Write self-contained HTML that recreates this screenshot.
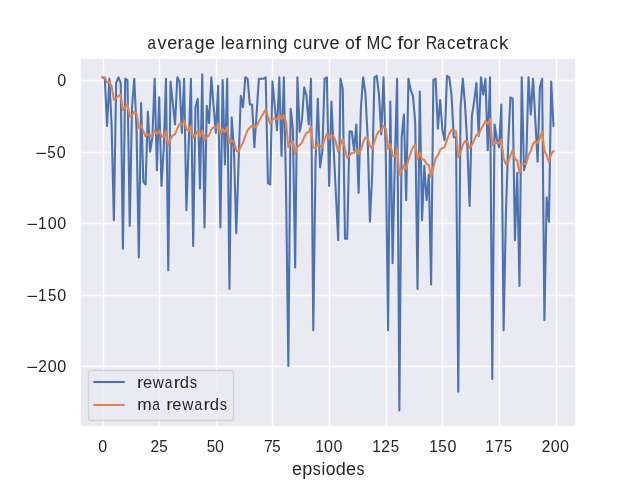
<!DOCTYPE html>
<html><head><meta charset="utf-8"><title>average learning curve of MC for Racetrack</title><style>
html,body{margin:0;padding:0;background:#fff;}
svg{display:block;}
.t{will-change:transform;}
text{font-family:"Liberation Sans",sans-serif;fill:#262626;}
</style></head><body>
<svg width="640" height="480" viewBox="0 0 640 480">
<rect width="640" height="480" fill="#fff"/>
<rect x="80.86" y="58.86" width="494.28" height="367.28" fill="#EAEAF2"/>
<line x1="103.5" y1="59" x2="103.5" y2="426" stroke="#fff" stroke-width="1.39"/>
<line x1="159.5" y1="59" x2="159.5" y2="426" stroke="#fff" stroke-width="1.39"/>
<line x1="216.5" y1="59" x2="216.5" y2="426" stroke="#fff" stroke-width="1.39"/>
<line x1="272.5" y1="59" x2="272.5" y2="426" stroke="#fff" stroke-width="1.39"/>
<line x1="329.5" y1="59" x2="329.5" y2="426" stroke="#fff" stroke-width="1.39"/>
<line x1="386.5" y1="59" x2="386.5" y2="426" stroke="#fff" stroke-width="1.39"/>
<line x1="442.5" y1="59" x2="442.5" y2="426" stroke="#fff" stroke-width="1.39"/>
<line x1="499.5" y1="59" x2="499.5" y2="426" stroke="#fff" stroke-width="1.39"/>
<line x1="556.5" y1="59" x2="556.5" y2="426" stroke="#fff" stroke-width="1.39"/>
<line x1="80.9" y1="80.5" x2="574.9" y2="80.5" stroke="#fff" stroke-width="1.39"/>
<line x1="80.9" y1="152.5" x2="574.9" y2="152.5" stroke="#fff" stroke-width="1.39"/>
<line x1="80.9" y1="223.5" x2="574.9" y2="223.5" stroke="#fff" stroke-width="1.39"/>
<line x1="80.9" y1="295.5" x2="574.9" y2="295.5" stroke="#fff" stroke-width="1.39"/>
<line x1="80.9" y1="366.5" x2="574.9" y2="366.5" stroke="#fff" stroke-width="1.39"/>
<path d="M102.55 77.26 L104.82 78.69 L107.08 125.87 L109.35 78.69 L111.61 125.87 L113.88 220.24 L116.15 82.98 L118.41 77.26 L120.68 82.98 L122.94 248.83 L125.21 78.69 L127.47 80.12 L129.74 225.96 L132.01 107.29 L134.27 78.69 L136.54 128.73 L138.80 257.41 L141.07 103.00 L143.34 181.63 L145.60 184.49 L147.87 111.57 L150.13 151.61 L152.40 137.31 L154.67 78.69 L156.93 170.20 L159.20 97.28 L161.46 185.92 L163.73 148.75 L165.99 78.69 L168.26 270.28 L170.53 81.55 L172.79 103.00 L175.06 124.44 L177.32 77.26 L179.59 81.55 L181.86 133.02 L184.12 78.69 L186.39 210.23 L188.65 145.89 L190.92 78.69 L193.18 245.97 L195.45 107.29 L197.72 98.71 L199.98 188.78 L202.25 74.40 L204.51 227.39 L206.78 105.86 L209.05 123.01 L211.31 77.26 L213.58 105.86 L215.84 133.02 L218.11 85.84 L220.38 227.39 L222.64 80.12 L224.91 164.48 L227.17 78.69 L229.44 288.87 L231.70 117.29 L233.97 150.18 L236.24 233.11 L238.50 165.91 L240.77 95.85 L243.03 107.29 L245.30 77.26 L247.57 78.69 L249.83 104.43 L252.10 104.43 L254.36 147.32 L256.63 113.00 L258.90 78.69 L261.16 78.69 L263.43 78.69 L265.69 77.26 L267.96 183.06 L270.22 184.49 L272.49 81.55 L274.76 105.86 L277.02 130.16 L279.29 77.26 L281.55 155.90 L283.82 77.26 L286.09 191.64 L288.35 366.08 L290.62 108.71 L292.88 128.73 L295.15 267.42 L297.42 77.26 L299.68 131.59 L301.95 120.15 L304.21 87.27 L306.48 95.85 L308.74 124.44 L311.01 78.69 L313.28 330.33 L315.54 161.62 L317.81 98.71 L320.07 167.34 L322.34 151.61 L324.61 78.69 L326.87 77.26 L329.14 185.92 L331.40 101.57 L333.67 148.75 L335.94 194.50 L338.20 240.26 L340.47 78.69 L342.73 88.70 L345.00 238.83 L347.26 238.83 L349.53 131.59 L351.80 131.59 L354.06 150.18 L356.33 124.44 L358.59 193.07 L360.86 108.71 L363.13 77.26 L365.39 92.99 L367.66 137.31 L369.92 221.67 L372.19 174.49 L374.45 77.26 L376.72 75.83 L378.99 94.42 L381.25 134.45 L383.52 77.26 L385.78 153.04 L388.05 330.33 L390.32 101.57 L392.58 263.13 L394.85 160.19 L397.11 78.69 L399.38 410.40 L401.65 137.31 L403.91 114.43 L406.18 200.22 L408.44 78.69 L410.71 90.13 L412.97 95.85 L415.24 123.01 L417.51 288.87 L419.77 91.56 L422.04 220.24 L424.30 165.91 L426.57 200.22 L428.84 174.49 L431.10 284.58 L433.37 80.12 L435.63 78.69 L437.90 128.73 L440.17 100.14 L442.43 130.16 L444.70 140.17 L446.96 75.83 L449.23 77.26 L451.49 94.42 L453.76 137.31 L456.03 137.31 L458.29 391.81 L460.56 107.29 L462.82 78.69 L465.09 105.86 L467.36 145.89 L469.62 205.94 L471.89 115.86 L474.15 101.57 L476.42 82.98 L478.69 135.88 L480.95 77.26 L483.22 94.42 L485.48 78.69 L487.75 150.18 L490.01 77.26 L492.28 378.94 L494.55 124.44 L496.81 138.74 L499.08 147.32 L501.34 104.43 L503.61 330.33 L505.88 214.52 L508.14 145.89 L510.41 97.28 L512.67 98.71 L514.94 240.26 L517.21 173.06 L519.47 286.01 L521.74 77.26 L524.00 170.20 L526.27 160.19 L528.53 77.26 L530.80 114.43 L533.07 78.69 L535.33 120.15 L537.60 161.62 L539.86 87.27 L542.13 78.69 L544.40 320.32 L546.66 197.36 L548.93 221.67 L551.19 81.55 L553.46 125.87" fill="none" stroke="#4C72B0" stroke-width="2.08" stroke-linejoin="round" stroke-linecap="square"/>
<path d="M102.55 77.26 L104.82 77.40 L107.08 82.25 L109.35 81.89 L111.61 86.29 L113.88 99.69 L116.15 98.02 L118.41 95.94 L120.68 94.64 L122.94 110.06 L125.21 106.93 L127.47 104.24 L129.74 116.42 L132.01 115.50 L134.27 111.82 L136.54 113.51 L138.80 127.90 L141.07 125.41 L143.34 131.03 L145.60 136.38 L147.87 133.90 L150.13 135.67 L152.40 135.83 L154.67 130.12 L156.93 134.13 L159.20 130.44 L161.46 135.99 L163.73 137.27 L165.99 131.41 L168.26 145.30 L170.53 138.92 L172.79 135.33 L175.06 134.24 L177.32 128.54 L179.59 123.84 L181.86 124.76 L184.12 120.15 L186.39 129.16 L188.65 130.83 L190.92 125.62 L193.18 137.65 L195.45 134.62 L197.72 131.03 L199.98 136.80 L202.25 130.56 L204.51 140.24 L206.78 136.81 L209.05 135.43 L211.31 129.61 L213.58 127.23 L215.84 127.81 L218.11 123.62 L220.38 133.99 L222.64 128.61 L224.91 132.19 L227.17 126.84 L229.44 143.04 L231.70 140.47 L233.97 141.44 L236.24 150.61 L238.50 152.14 L240.77 146.51 L243.03 142.59 L245.30 136.05 L247.57 130.32 L249.83 127.73 L252.10 125.40 L254.36 127.59 L256.63 126.13 L258.90 121.39 L261.16 117.12 L263.43 113.27 L265.69 109.67 L267.96 117.01 L270.22 123.76 L272.49 119.54 L274.76 118.17 L277.02 119.37 L279.29 115.16 L281.55 119.23 L283.82 115.04 L286.09 122.70 L288.35 147.03 L290.62 143.20 L292.88 141.76 L295.15 154.32 L297.42 146.62 L299.68 145.11 L301.95 142.62 L304.21 137.08 L306.48 132.96 L308.74 132.11 L311.01 126.77 L313.28 147.12 L315.54 148.57 L317.81 143.58 L320.07 145.96 L322.34 146.52 L324.61 139.74 L326.87 133.49 L329.14 138.74 L331.40 135.02 L333.67 136.39 L335.94 142.20 L338.20 152.01 L340.47 144.68 L342.73 139.08 L345.00 149.05 L347.26 158.03 L349.53 155.39 L351.80 153.01 L354.06 152.72 L356.33 149.90 L358.59 154.21 L360.86 149.66 L363.13 142.42 L365.39 137.48 L367.66 137.46 L369.92 145.88 L372.19 148.74 L374.45 141.60 L376.72 135.02 L378.99 130.96 L381.25 131.31 L383.52 125.90 L385.78 128.62 L388.05 148.79 L390.32 144.07 L392.58 155.97 L394.85 156.39 L397.11 148.62 L399.38 174.80 L401.65 171.05 L403.91 165.39 L406.18 168.87 L408.44 159.85 L410.71 152.88 L412.97 147.18 L415.24 144.76 L417.51 159.17 L419.77 152.41 L422.04 159.19 L424.30 159.87 L426.57 163.90 L428.84 164.96 L431.10 176.92 L433.37 167.24 L435.63 158.39 L437.90 155.42 L440.17 149.89 L442.43 147.92 L444.70 147.14 L446.96 140.01 L449.23 133.74 L451.49 129.81 L453.76 130.56 L456.03 131.23 L458.29 157.29 L460.56 152.29 L462.82 144.93 L465.09 141.02 L467.36 141.51 L469.62 147.95 L471.89 144.74 L474.15 140.43 L476.42 134.68 L478.69 134.80 L480.95 129.05 L483.22 125.58 L485.48 120.89 L487.75 123.82 L490.01 119.17 L492.28 145.14 L494.55 143.07 L496.81 142.64 L499.08 143.11 L501.34 139.24 L503.61 158.35 L505.88 163.97 L508.14 162.16 L510.41 155.67 L512.67 149.97 L514.94 159.00 L517.21 160.41 L519.47 172.97 L521.74 163.40 L524.00 164.08 L526.27 163.69 L528.53 155.04 L530.80 150.98 L533.07 143.75 L535.33 141.39 L537.60 143.42 L539.86 137.80 L542.13 131.89 L544.40 150.73 L546.66 155.40 L548.93 162.02 L551.19 153.98 L553.46 151.17" fill="none" stroke="#DD8452" stroke-width="2.08" stroke-linejoin="round" stroke-linecap="square"/>
<rect x="88.5" y="370.5" width="145" height="50" rx="2.8" fill="#EAEAF2" fill-opacity="0.8" stroke="#CCCCCC" stroke-opacity="0.8" stroke-width="1.39"/>
<line x1="94.3" y1="382" x2="123.7" y2="382" stroke="#4C72B0" stroke-width="2.08" stroke-linecap="square"/>
<line x1="94.3" y1="405" x2="123.7" y2="405" stroke="#DD8452" stroke-width="2.08" stroke-linecap="square"/>
<g class="t" fill="#262626">
<text y="48.77" font-size="18.67"><tspan x="147.42" y="48.77" textLength="8.34" lengthAdjust="spacingAndGlyphs">a</tspan><tspan x="157.60" y="48.77" textLength="8.99" lengthAdjust="spacingAndGlyphs">v</tspan><tspan x="167.18" y="48.77" textLength="10.01" lengthAdjust="spacingAndGlyphs">e</tspan><tspan x="177.36" y="48.77" textLength="7.11" lengthAdjust="spacingAndGlyphs">r</tspan><tspan x="184.50" y="48.77" textLength="8.34" lengthAdjust="spacingAndGlyphs">a</tspan><tspan x="194.40" y="48.77" textLength="10.07" lengthAdjust="spacingAndGlyphs">g</tspan><tspan x="204.89" y="48.77" textLength="10.01" lengthAdjust="spacingAndGlyphs">e</tspan> <tspan x="220.64" y="48.77" textLength="3.79" lengthAdjust="spacingAndGlyphs">l</tspan><tspan x="224.99" y="48.77" textLength="10.01" lengthAdjust="spacingAndGlyphs">e</tspan><tspan x="235.43" y="48.77" textLength="8.34" lengthAdjust="spacingAndGlyphs">a</tspan><tspan x="245.28" y="48.77" textLength="7.11" lengthAdjust="spacingAndGlyphs">r</tspan><tspan x="252.12" y="48.77" textLength="9.99" lengthAdjust="spacingAndGlyphs">n</tspan><tspan x="262.72" y="48.77" textLength="3.79" lengthAdjust="spacingAndGlyphs">i</tspan><tspan x="267.23" y="48.77" textLength="9.99" lengthAdjust="spacingAndGlyphs">n</tspan><tspan x="277.55" y="48.77" textLength="10.07" lengthAdjust="spacingAndGlyphs">g</tspan> <tspan x="293.33" y="48.77" textLength="8.36" lengthAdjust="spacingAndGlyphs">c</tspan><tspan x="302.49" y="48.77" textLength="9.99" lengthAdjust="spacingAndGlyphs">u</tspan><tspan x="312.82" y="48.77" textLength="7.11" lengthAdjust="spacingAndGlyphs">r</tspan><tspan x="320.03" y="48.77" textLength="8.99" lengthAdjust="spacingAndGlyphs">v</tspan><tspan x="329.61" y="48.77" textLength="10.01" lengthAdjust="spacingAndGlyphs">e</tspan> <tspan x="345.11" y="48.77" textLength="9.85" lengthAdjust="spacingAndGlyphs">o</tspan><tspan x="355.12" y="48.77" textLength="6.08" lengthAdjust="spacingAndGlyphs">f</tspan> <tspan x="366.43" y="48.77" textLength="13.84" lengthAdjust="spacingAndGlyphs">M</tspan><tspan x="380.66" y="48.77" textLength="11.17" lengthAdjust="spacingAndGlyphs">C</tspan> <tspan x="397.32" y="48.77" textLength="6.08" lengthAdjust="spacingAndGlyphs">f</tspan><tspan x="403.29" y="48.77" textLength="9.85" lengthAdjust="spacingAndGlyphs">o</tspan><tspan x="413.32" y="48.77" textLength="7.11" lengthAdjust="spacingAndGlyphs">r</tspan> <tspan x="425.66" y="48.77" textLength="11.51" lengthAdjust="spacingAndGlyphs">R</tspan><tspan x="436.94" y="48.77" textLength="8.34" lengthAdjust="spacingAndGlyphs">a</tspan><tspan x="446.89" y="48.77" textLength="8.36" lengthAdjust="spacingAndGlyphs">c</tspan><tspan x="455.95" y="48.77" textLength="10.01" lengthAdjust="spacingAndGlyphs">e</tspan><tspan x="466.15" y="48.77" textLength="6.19" lengthAdjust="spacingAndGlyphs">t</tspan><tspan x="472.62" y="48.77" textLength="7.11" lengthAdjust="spacingAndGlyphs">r</tspan><tspan x="479.76" y="48.77" textLength="8.34" lengthAdjust="spacingAndGlyphs">a</tspan><tspan x="489.72" y="48.77" textLength="8.36" lengthAdjust="spacingAndGlyphs">c</tspan><tspan x="498.88" y="48.77" textLength="9.32" lengthAdjust="spacingAndGlyphs">k</tspan></text>
<text y="474.70" font-size="18.67"><tspan x="292.08" y="474.70" textLength="10.01" lengthAdjust="spacingAndGlyphs">e</tspan><tspan x="302.36" y="474.70" textLength="10.08" lengthAdjust="spacingAndGlyphs">p</tspan><tspan x="312.84" y="474.70" textLength="7.99" lengthAdjust="spacingAndGlyphs">s</tspan><tspan x="321.46" y="474.70" textLength="3.79" lengthAdjust="spacingAndGlyphs">i</tspan><tspan x="325.72" y="474.70" textLength="9.85" lengthAdjust="spacingAndGlyphs">o</tspan><tspan x="335.68" y="474.70" textLength="10.07" lengthAdjust="spacingAndGlyphs">d</tspan><tspan x="346.02" y="474.70" textLength="10.01" lengthAdjust="spacingAndGlyphs">e</tspan><tspan x="356.44" y="474.70" textLength="7.99" lengthAdjust="spacingAndGlyphs">s</tspan></text>
<text y="451.89" font-size="15.89"><tspan x="98.34" y="451.89" textLength="8.96" lengthAdjust="spacingAndGlyphs">0</tspan></text>
<text y="451.89" font-size="15.89"><tspan x="150.56" y="451.89" textLength="8.63" lengthAdjust="spacingAndGlyphs">2</tspan><tspan x="159.15" y="451.89" textLength="8.45" lengthAdjust="spacingAndGlyphs">5</tspan></text>
<text y="451.89" font-size="15.89"><tspan x="206.73" y="451.89" textLength="8.45" lengthAdjust="spacingAndGlyphs">5</tspan><tspan x="215.10" y="451.89" textLength="8.96" lengthAdjust="spacingAndGlyphs">0</tspan></text>
<text y="451.89" font-size="15.89"><tspan x="263.92" y="451.89" textLength="8.76" lengthAdjust="spacingAndGlyphs">7</tspan><tspan x="272.19" y="451.89" textLength="8.45" lengthAdjust="spacingAndGlyphs">5</tspan></text>
<text y="451.89" font-size="15.89"><tspan x="315.30" y="451.89" textLength="8.55" lengthAdjust="spacingAndGlyphs">1</tspan><tspan x="323.93" y="451.89" textLength="8.96" lengthAdjust="spacingAndGlyphs">0</tspan><tspan x="333.56" y="451.89" textLength="8.96" lengthAdjust="spacingAndGlyphs">0</tspan></text>
<text y="451.89" font-size="15.89"><tspan x="372.30" y="451.89" textLength="8.55" lengthAdjust="spacingAndGlyphs">1</tspan><tspan x="381.20" y="451.89" textLength="8.63" lengthAdjust="spacingAndGlyphs">2</tspan><tspan x="390.78" y="451.89" textLength="8.45" lengthAdjust="spacingAndGlyphs">5</tspan></text>
<text y="451.89" font-size="15.89"><tspan x="429.30" y="451.89" textLength="8.55" lengthAdjust="spacingAndGlyphs">1</tspan><tspan x="438.15" y="451.89" textLength="8.45" lengthAdjust="spacingAndGlyphs">5</tspan><tspan x="447.56" y="451.89" textLength="8.96" lengthAdjust="spacingAndGlyphs">0</tspan></text>
<text y="451.89" font-size="15.89"><tspan x="485.30" y="451.89" textLength="8.55" lengthAdjust="spacingAndGlyphs">1</tspan><tspan x="494.48" y="451.89" textLength="8.76" lengthAdjust="spacingAndGlyphs">7</tspan><tspan x="503.78" y="451.89" textLength="8.45" lengthAdjust="spacingAndGlyphs">5</tspan></text>
<text y="451.89" font-size="15.89"><tspan x="541.78" y="451.89" textLength="8.63" lengthAdjust="spacingAndGlyphs">2</tspan><tspan x="550.73" y="451.89" textLength="8.96" lengthAdjust="spacingAndGlyphs">0</tspan><tspan x="560.01" y="451.89" textLength="8.96" lengthAdjust="spacingAndGlyphs">0</tspan></text>
<text y="372.08" font-size="16.81"><tspan x="26.64" y="372.95" textLength="11.48" lengthAdjust="spacingAndGlyphs">−</tspan><tspan x="38.33" y="372.08" textLength="8.63" lengthAdjust="spacingAndGlyphs">2</tspan><tspan x="47.68" y="372.08" textLength="8.96" lengthAdjust="spacingAndGlyphs">0</tspan><tspan x="57.34" y="372.08" textLength="8.96" lengthAdjust="spacingAndGlyphs">0</tspan></text>
<text y="300.59" font-size="16.81"><tspan x="26.64" y="301.95" textLength="11.48" lengthAdjust="spacingAndGlyphs">−</tspan><tspan x="38.07" y="300.59" textLength="8.55" lengthAdjust="spacingAndGlyphs">1</tspan><tspan x="47.92" y="300.59" textLength="8.45" lengthAdjust="spacingAndGlyphs">5</tspan><tspan x="57.34" y="300.59" textLength="8.96" lengthAdjust="spacingAndGlyphs">0</tspan></text>
<text y="229.10" font-size="16.81"><tspan x="26.64" y="229.95" textLength="11.48" lengthAdjust="spacingAndGlyphs">−</tspan><tspan x="38.07" y="229.10" textLength="8.55" lengthAdjust="spacingAndGlyphs">1</tspan><tspan x="47.68" y="229.10" textLength="8.96" lengthAdjust="spacingAndGlyphs">0</tspan><tspan x="57.34" y="229.10" textLength="8.96" lengthAdjust="spacingAndGlyphs">0</tspan></text>
<text y="157.61" font-size="16.81"><tspan x="35.64" y="158.95" textLength="11.48" lengthAdjust="spacingAndGlyphs">−</tspan><tspan x="47.26" y="157.61" textLength="8.45" lengthAdjust="spacingAndGlyphs">5</tspan><tspan x="56.68" y="157.61" textLength="8.96" lengthAdjust="spacingAndGlyphs">0</tspan></text>
<text y="86.12" font-size="16.81"><tspan x="57.34" y="86.12" textLength="8.96" lengthAdjust="spacingAndGlyphs">0</tspan></text>
<text y="387.56" font-size="15.58"><tspan x="137.03" y="387.56" textLength="6.52" lengthAdjust="spacingAndGlyphs">r</tspan><tspan x="142.96" y="387.56" textLength="9.18" lengthAdjust="spacingAndGlyphs">e</tspan><tspan x="152.79" y="387.56" textLength="11.15" lengthAdjust="spacingAndGlyphs">w</tspan><tspan x="164.77" y="387.56" textLength="7.64" lengthAdjust="spacingAndGlyphs">a</tspan><tspan x="173.74" y="387.56" textLength="6.52" lengthAdjust="spacingAndGlyphs">r</tspan><tspan x="179.80" y="387.56" textLength="9.23" lengthAdjust="spacingAndGlyphs">d</tspan><tspan x="189.66" y="387.56" textLength="7.32" lengthAdjust="spacingAndGlyphs">s</tspan></text>
<text y="410.20" font-size="15.58"><tspan x="137.21" y="410.20" textLength="14.50" lengthAdjust="spacingAndGlyphs">m</tspan><tspan x="152.18" y="410.20" textLength="7.64" lengthAdjust="spacingAndGlyphs">a</tspan> <tspan x="166.18" y="410.20" textLength="6.52" lengthAdjust="spacingAndGlyphs">r</tspan><tspan x="172.23" y="410.20" textLength="9.18" lengthAdjust="spacingAndGlyphs">e</tspan><tspan x="182.25" y="410.20" textLength="11.15" lengthAdjust="spacingAndGlyphs">w</tspan><tspan x="194.41" y="410.20" textLength="7.64" lengthAdjust="spacingAndGlyphs">a</tspan><tspan x="203.54" y="410.20" textLength="6.52" lengthAdjust="spacingAndGlyphs">r</tspan><tspan x="209.72" y="410.20" textLength="9.23" lengthAdjust="spacingAndGlyphs">d</tspan><tspan x="219.74" y="410.20" textLength="7.32" lengthAdjust="spacingAndGlyphs">s</tspan></text>
</g>
</svg>
</body></html>
